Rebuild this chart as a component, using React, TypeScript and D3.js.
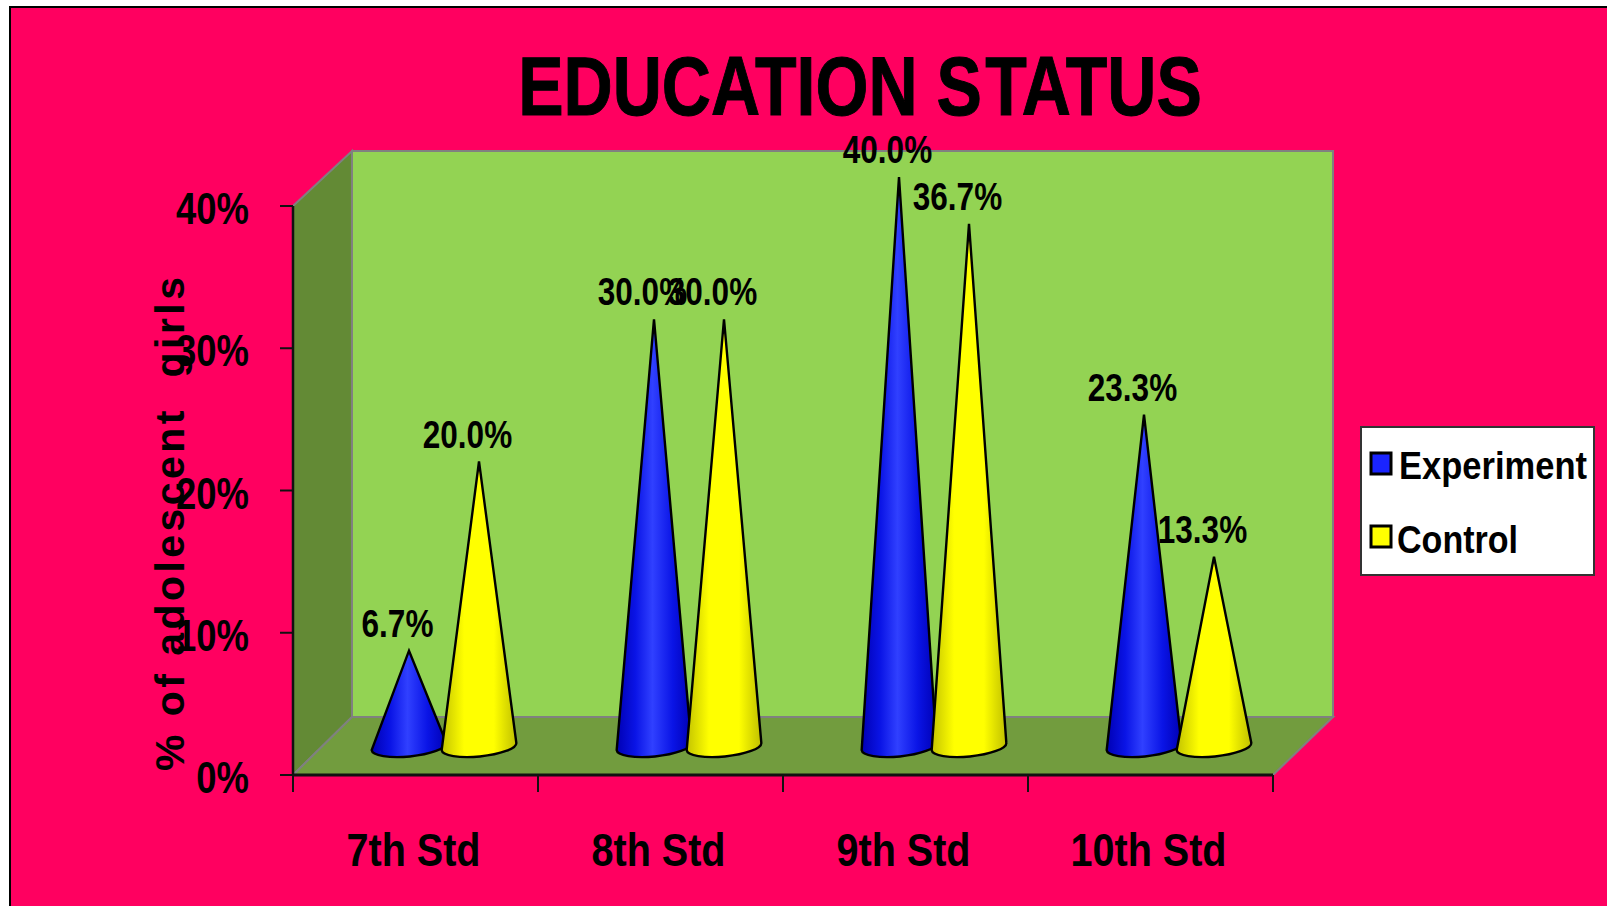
import React from "react";
import * as d3 from "d3";

const categories = ["7th Std", "8th Std", "9th Std", "10th Std"];
const seriesNames = ["Experiment", "Control"];
const experiment = [6.7, 30.0, 40.0, 23.3];
const control = [20.0, 30.0, 36.7, 13.3];
const yTicks = [0, 10, 20, 30, 40];

const colors: Record<string, string> = { Experiment: "#1a24ff", Control: "#ffff00" };
const FONT = "'Liberation Sans', Arial, sans-serif";

const WIDTH = 1607;
const HEIGHT = 906;
const LEFT = 293;
const RIGHT = 1273;
const BOTTOM = 775;
const TOP = 206;
const DEPTH_X = 59;
const DEPTH_Y = 58;
const BASE_RX = 37.5;
const BASE_RY = 10;
const BASE_TILT = -5.5;

const y = d3.scaleLinear().domain([0, 40]).range([BOTTOM, TOP]);
const x = d3.scaleBand<string>().domain(categories).range([LEFT, RIGHT]);
const inner = d3.scaleBand<string>().domain(seriesNames).range([-70, 70]);

// A cone standing halfway into the chart's depth, with a slightly tilted elliptical base.
function conePath(cx: number, value: number) {
  const baseY = y(0) - DEPTH_Y / 2;
  const tipY = y(value) - DEPTH_Y / 2;
  const t = (BASE_TILT * Math.PI) / 180;
  const dx = BASE_RX * Math.cos(t);
  const dy = BASE_RX * Math.sin(t);
  const cy = baseY + 0.5;
  return `M${cx - dx},${cy - dy} L${cx},${tipY} L${cx + dx},${cy + dy} A${BASE_RX},${BASE_RY} ${BASE_TILT} 0 1 ${cx - dx},${cy - dy} Z`;
}

const poly = (pts: [number, number][]) => d3.line()(pts) + "Z";

export default function App() {
  const backTop = TOP - 55;
  const backBottom = BOTTOM - DEPTH_Y;
  const series = [
    { name: "Experiment", values: experiment, grad: "url(#coneBlue)" },
    { name: "Control", values: control, grad: "url(#coneYellow)" },
  ];
  return (
    <svg
      width={WIDTH}
      height={HEIGHT}
      viewBox={`0 0 ${WIDTH} ${HEIGHT}`}
      style={{ position: "absolute", left: 0, top: 0, background: "#fff", display: "block" }}
      fontFamily={FONT}
    >
      <defs>
        <linearGradient id="coneBlue" x1="0" x2="1" y1="0" y2="0">
          <stop offset="0" stopColor="#0000b4" />
          <stop offset="0.25" stopColor="#0a14e6" />
          <stop offset="0.48" stopColor="#3040ff" />
          <stop offset="0.75" stopColor="#0a14e6" />
          <stop offset="1" stopColor="#0000b4" />
        </linearGradient>
        <linearGradient id="coneYellow" x1="0" x2="1" y1="0" y2="0">
          <stop offset="0" stopColor="#c4c400" />
          <stop offset="0.3" stopColor="#ffff00" />
          <stop offset="0.7" stopColor="#ffff00" />
          <stop offset="1" stopColor="#c0c000" />
        </linearGradient>
      </defs>

      <rect x={10} y={7} width={WIDTH} height={HEIGHT} fill="#ff0060" stroke="#000" strokeWidth={2} />

      <text
        transform="translate(860,115) scale(0.82,1)"
        textAnchor="middle"
        fontSize={83}
        fontWeight="bold"
        stroke="#000"
        strokeWidth={1}
        dx="0 0 0 0 0 0 0 0 0 0 0 4"
      >
        EDUCATION STATUS
      </text>

      {/* Chart walls and floor */}
      <path d={poly([[LEFT + DEPTH_X, backTop], [RIGHT + DEPTH_X + 1, backTop], [RIGHT + DEPTH_X + 1, backBottom], [LEFT + DEPTH_X, backBottom]])} fill="#93d353" stroke="#808080" strokeWidth={2} />
      <path d={poly([[LEFT, TOP], [LEFT + DEPTH_X, backTop], [LEFT + DEPTH_X, backBottom], [LEFT, BOTTOM]])} fill="#638a35" stroke="#808080" strokeWidth={2} />
      <path d={poly([[LEFT, BOTTOM], [RIGHT, BOTTOM], [RIGHT + DEPTH_X + 1, backBottom], [LEFT + DEPTH_X, backBottom]])} fill="#729c3e" stroke="#808080" strokeWidth={2} />

      {/* Axes */}
      <line x1={LEFT} x2={LEFT} y1={TOP} y2={BOTTOM} stroke="#111" strokeWidth={2.5} />
      <line x1={LEFT} x2={RIGHT} y1={BOTTOM} y2={BOTTOM} stroke="#111" strokeWidth={3} />
      {yTicks.map((t) => (
        <g key={t}>
          <line x1={LEFT - 13} x2={LEFT} y1={y(t)} y2={y(t)} stroke="#111" strokeWidth={2} />
          <text
            transform={`translate(249,${y(t) + 18}) scale(0.81,1)`}
            textAnchor="end"
            fontSize={45}
            fontWeight="bold"
          >
            {t}%
          </text>
        </g>
      ))}
      {categories.concat("").map((c, i) => (
        <line
          key={i}
          x1={LEFT + (i * (RIGHT - LEFT)) / categories.length}
          x2={LEFT + (i * (RIGHT - LEFT)) / categories.length}
          y1={BOTTOM}
          y2={BOTTOM + 17}
          stroke="#111"
          strokeWidth={2}
        />
      ))}
      {categories.map((c) => (
        <text
          key={c}
          transform={`translate(${x(c)! + x.bandwidth() / 2 - 2},866) scale(0.86,1)`}
          textAnchor="middle"
          fontSize={46}
          fontWeight="bold"
        >
          {c}
        </text>
      ))}

      <text
        transform="translate(184,771) rotate(-90)"
        fontSize={41}
        fontWeight="bold"
        textLength={494}
        lengthAdjust="spacing"
        style={{ whiteSpace: "pre" }}
      >
        {"% of adolescent  girls"}
      </text>

      {/* Cones, then their value labels */}
      {categories.map((c, i) =>
        series.map((s) => {
          const cx = x(c)! + x.bandwidth() / 2 + DEPTH_X / 2 + inner(s.name)! + inner.bandwidth() / 2 - 1;
          return (
            <path key={c + s.name} d={conePath(cx, s.values[i])} fill={s.grad} stroke="#000" strokeWidth={2.4} strokeLinejoin="miter" />
          );
        })
      )}
      {categories.map((c, i) =>
        series.map((s) => {
          const cx = x(c)! + x.bandwidth() / 2 + DEPTH_X / 2 + inner(s.name)! + inner.bandwidth() / 2;
          return (
            <text
              key={c + s.name}
              transform={`translate(${cx - 12.5},${y(s.values[i]) - DEPTH_Y / 2 - 14}) scale(0.83,1)`}
              textAnchor="middle"
              fontSize={38}
              fontWeight="bold"
            >
              {s.values[i].toFixed(1)}%
            </text>
          );
        })
      )}

      {/* Legend */}
      <rect x={1361} y={427} width={233} height={148} fill="#fff" stroke="#333" strokeWidth={2} />
      {seriesNames.map((n, i) => (
        <g key={n}>
          <rect x={1371} y={453 + i * 73} width={20} height={21} fill={colors[n]} stroke="#000" strokeWidth={3} />
          <text
            x={n === "Experiment" ? 1399 : 1397}
            y={479 + i * 74}
            fontSize={38}
            fontWeight="bold"
            textLength={n === "Experiment" ? 188 : 121}
            lengthAdjust="spacingAndGlyphs"
          >
            {n}
          </text>
        </g>
      ))}
    </svg>
  );
}
